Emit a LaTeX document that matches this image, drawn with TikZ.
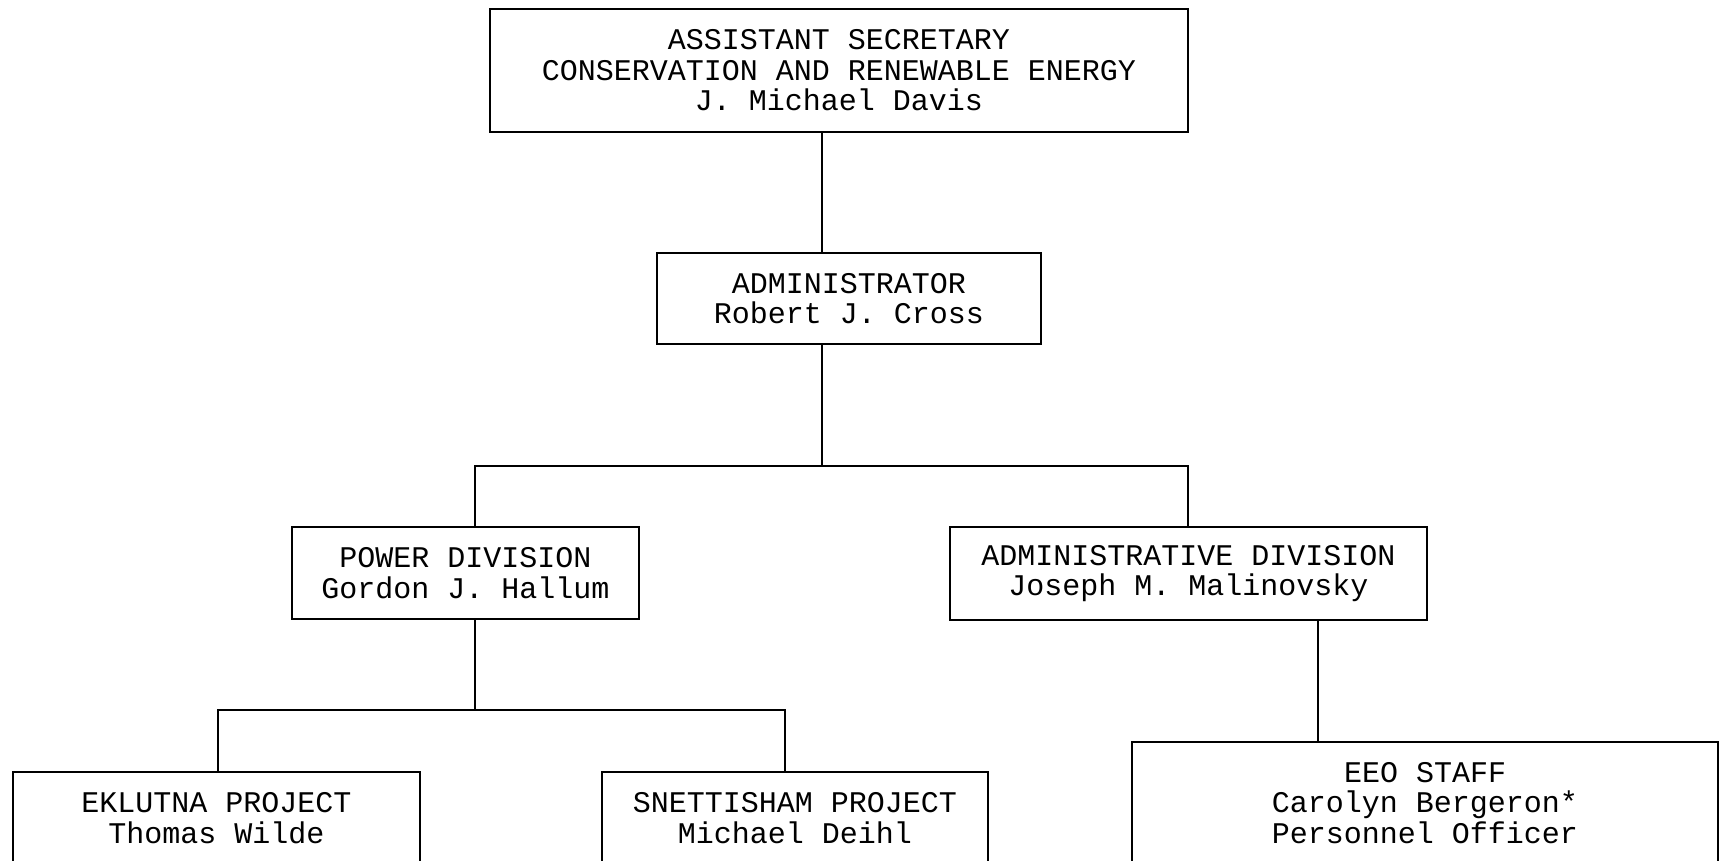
\documentclass[tikz,border=0pt]{standalone}
\usepackage{fontspec}
\setmonofont{Liberation Mono}
\begin{document}
\begin{tikzpicture}[x=1pt,y=-1pt,
  box/.style={draw=black,line width=1.5pt,fill=white,rectangle,inner sep=0pt,
    align=center,font=\ttfamily\fontsize{30}{30.5}\selectfont},
  link/.style={draw=black,line width=1.5pt}]
\useasboundingbox[fill=white] (0,0) rectangle (1719,861);
\node[box,minimum width=698pt,minimum height=123pt] (top) at (839,70.5)
  {ASSISTANT SECRETARY\\CONSERVATION AND RENEWABLE ENERGY\\J. Michael Davis};
\node[box,minimum width=384pt,minimum height=91pt] (adm) at (849,298.5)
  {ADMINISTRATOR\\Robert J. Cross};
\node[box,minimum width=347pt,minimum height=92pt] (pow) at (465.5,573)
  {POWER DIVISION\\Gordon J. Hallum};
\node[box,minimum width=477pt,minimum height=93pt] (add) at (1188.5,573.5)
  {ADMINISTRATIVE DIVISION\\Joseph M. Malinovsky};
\node[box,minimum width=407pt,minimum height=92pt] (ekl) at (216.5,818)
  {EKLUTNA PROJECT\\Thomas Wilde};
\node[box,minimum width=386pt,minimum height=92pt] (sne) at (795,818)
  {SNETTISHAM PROJECT\\Michael Deihl};
\node[box,minimum width=586pt,minimum height=122pt] (eeo) at (1425,803)
  {EEO STAFF\\Carolyn Bergeron*\\Personnel Officer};
% bus coordinates
\coordinate (b1) at (0,466);
\coordinate (b2) at (0,710);
\coordinate (xa) at (822,0);
\coordinate (xp) at (475,0);
\coordinate (xd) at (1188,0);
\coordinate (xe) at (218,0);
\coordinate (xs) at (785,0);
\coordinate (xr) at (1318,0);
\draw[link] (top.south -| xa) -- (adm.north -| xa);
\draw[link] (adm.south -| xa) -- (b1 -| xa);
\draw[link] (pow.north -| xp) -- (b1 -| xp) -- (b1 -| xd) -- (add.north -| xd);
\draw[link] (pow.south -| xp) -- (b2 -| xp);
\draw[link] (ekl.north -| xe) -- (b2 -| xe) -- (b2 -| xs) -- (sne.north -| xs);
\draw[link] (add.south -| xr) -- (eeo.north -| xr);
\end{tikzpicture}
\end{document}
